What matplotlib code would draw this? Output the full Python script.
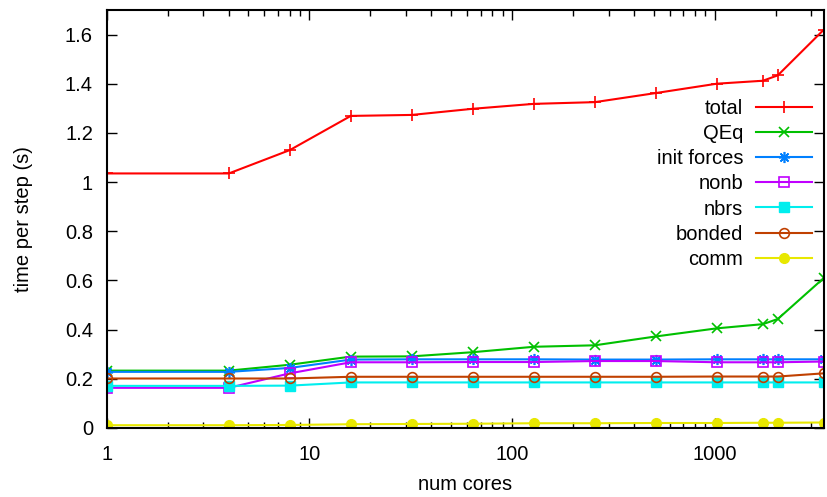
import matplotlib
matplotlib.use('Agg')
from matplotlib import pyplot as plt
from matplotlib.ticker import FixedLocator, LogLocator, NullFormatter, FuncFormatter

plt.rcParams['font.family'] = ['Liberation Sans', 'DejaVu Sans']
plt.rcParams['font.size'] = 14.5

cores = [1, 4, 8, 16, 32, 64, 128, 256, 512, 1024, 1728, 2048, 3456]

total = [1.035, 1.035, 1.13, 1.269, 1.273, 1.298, 1.318, 1.325, 1.362, 1.40, 1.412, 1.434, 1.62]
qeq = [0.233, 0.233, 0.257, 0.29, 0.291, 0.308, 0.33, 0.336, 0.372, 0.405, 0.422, 0.443, 0.61]
init_forces = [0.228, 0.228, 0.244, 0.278, 0.279, 0.279, 0.279, 0.278, 0.278, 0.279, 0.279, 0.279, 0.279]
nonb = [0.163, 0.163, 0.222, 0.267, 0.267, 0.268, 0.268, 0.272, 0.272, 0.267, 0.267, 0.267, 0.27]
nbrs = [0.171, 0.171, 0.172, 0.185, 0.185, 0.185, 0.185, 0.185, 0.185, 0.185, 0.185, 0.185, 0.185]
bonded = [0.201, 0.201, 0.201, 0.208, 0.208, 0.208, 0.208, 0.208, 0.208, 0.209, 0.209, 0.209, 0.222]
comm = [0.011, 0.011, 0.012, 0.015, 0.016, 0.017, 0.019, 0.019, 0.02, 0.02, 0.021, 0.021, 0.022]

fig = plt.figure(figsize=(8.28, 4.97), dpi=100)
ax = fig.add_axes([0.129, 0.139, 0.866, 0.841])

ax.plot(cores, total, color='#ff0000', marker='+', ms=8, mew=1.2, lw=1.5, label='total')
ax.plot(cores, qeq, color='#00c000', marker='x', ms=7, mew=1.2, lw=1.5, label='QEq')
ax.plot(cores, init_forces, color='#0080ff', marker=(8, 2, 0), ms=8, mew=1.2, lw=1.5, label='init forces')
ax.plot(cores, nonb, color='#c000ff', marker='s', ms=7, mfc='none', mew=1.2, lw=1.5, label='nonb')
ax.plot(cores, nbrs, color='#00eeee', marker='s', ms=7, lw=1.5, label='nbrs')
ax.plot(cores, bonded, color='#c04000', marker='o', ms=7, mfc='none', mew=1.2, lw=1.5, label='bonded')
ax.plot(cores, comm, color='#e8e800', marker='o', ms=7, lw=1.5, label='comm')

ax.set_xscale('log')
ax.set_xlim(1, 3456)
ax.set_ylim(0, 1.7)
ax.xaxis.set_major_locator(FixedLocator([1, 10, 100, 1000]))
ax.xaxis.set_major_formatter(FuncFormatter(lambda v, p: '%d' % v))
ax.xaxis.set_minor_locator(LogLocator(base=10, subs=range(2, 10)))
ax.xaxis.set_minor_formatter(NullFormatter())
ax.set_yticks([0, 0.2, 0.4, 0.6, 0.8, 1.0, 1.2, 1.4, 1.6])
ax.yaxis.set_major_formatter(FuncFormatter(lambda v, p: '%g' % v))

ax.tick_params(which='both', direction='in', top=True, right=True, width=1)
ax.tick_params(which='major', length=7)
ax.tick_params(which='minor', length=4)
ax.tick_params(axis='y', pad=10)
ax.tick_params(axis='x', pad=12)
for s in ax.spines.values():
    s.set_linewidth(1.5)

ax.set_xlabel('num cores')
ax.set_ylabel('time per step (s)')
ax.xaxis.set_label_coords(0.5, -0.113)
ax.yaxis.set_label_coords(-0.103, 0.5)

leg = ax.legend(loc='upper right', bbox_to_anchor=(0.983, 0.788), frameon=False,
                markerfirst=False, handlelength=2.75, handletextpad=0.65,
                labelspacing=0.31, borderpad=0, borderaxespad=0)

fig.savefig('out.png', dpi=100)
